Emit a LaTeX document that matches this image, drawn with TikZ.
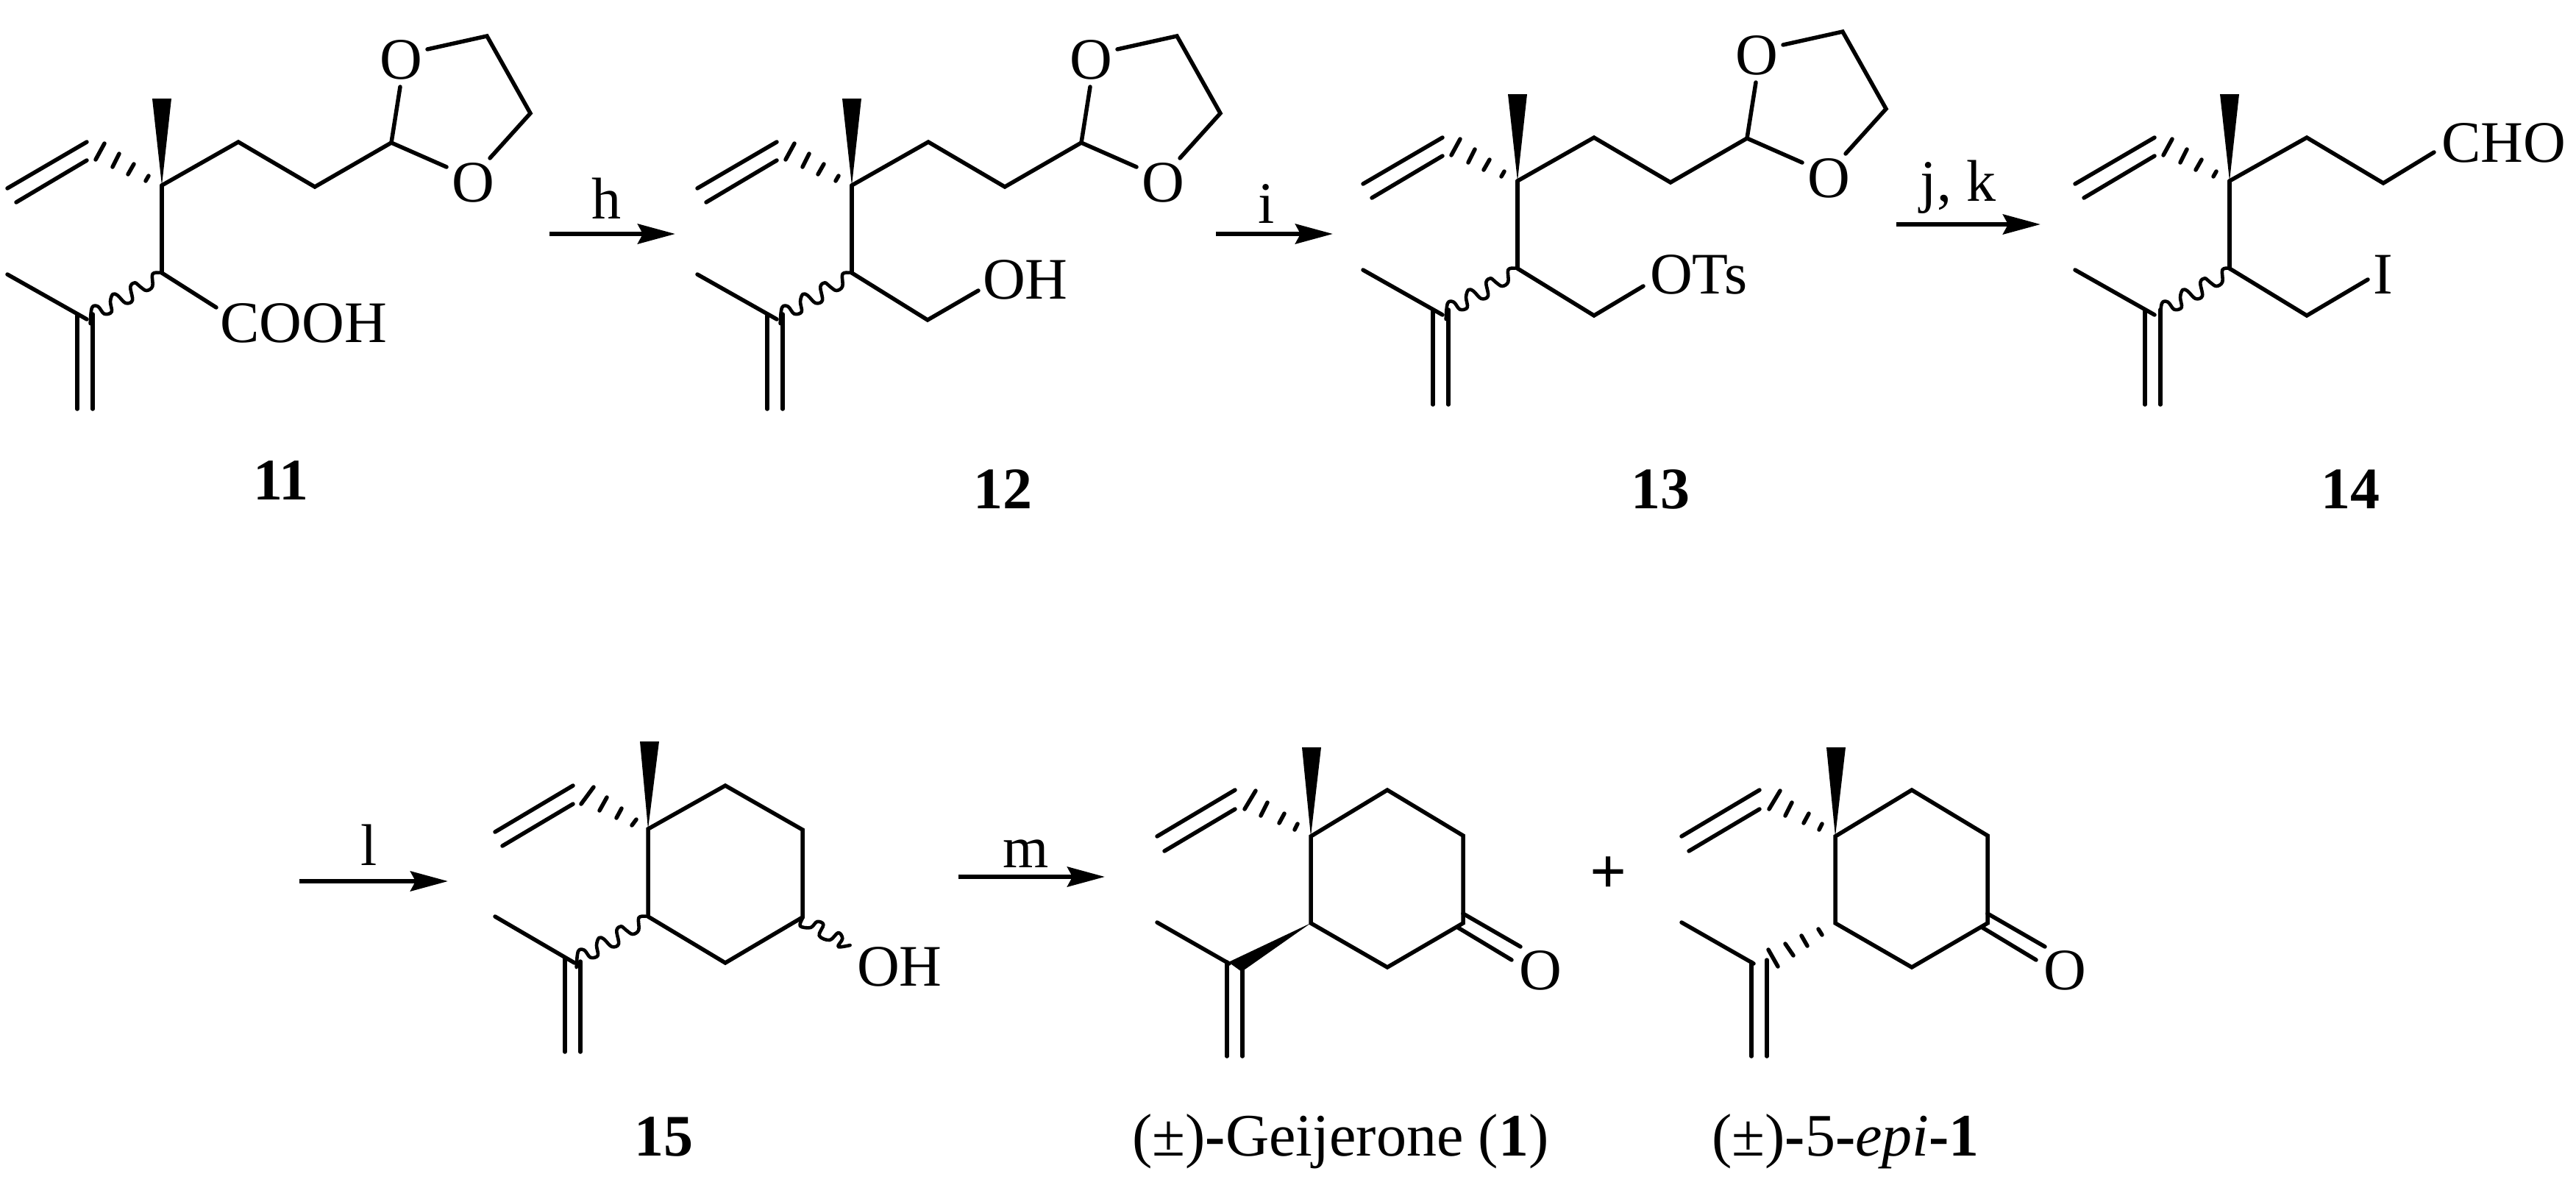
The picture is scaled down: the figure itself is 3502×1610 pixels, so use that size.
\documentclass[tikz,border=0pt]{standalone}
\usepackage{fontspec}
\setmainfont{Liberation Serif}
\usetikzlibrary{arrows.meta}
\tikzset{
  bond/.style={line width=5.5pt,line cap=round,line join=miter,miter limit=10},
  hash/.style={line width=5.5pt,line cap=round},
  wave/.style={line width=4.6pt,line cap=round,line join=round},
  rxn/.style={line width=6pt,-{Stealth[length=51pt,width=27pt,inset=7pt]}},
  atom/.style={inner sep=0pt,font=\fontsize{80}{96}\selectfont},
  cmpd/.style={inner sep=0pt,font=\fontsize{80}{96}\selectfont\bfseries},
  lbl/.style={inner sep=0pt,font=\fontsize{82}{98}\selectfont},
}
% wavy bond from the ring or chain carbon to the isopropenyl carbon
\newcommand{\WaveA}{%
  \draw[wave] plot[smooth,tension=0.6] coordinates {
    (216.7,370.7) (207.3,372.7) (207.3,389.3) (199,395) (190,389.3) (183.3,384.3)
    (177.3,390) (180,408.3) (170.7,412) (160,401.7) (153.3,400) (150,410)
    (151.7,424) (141.7,426.7) (133.3,416.7) (125,418.3) (122.7,440)};
}
% top-row core: quaternary C, wedge, vinyl, hashed bond, isopropenyl
\newcommand{\TopCore}{%
  \coordinate (q) at (220,252);
  \coordinate (c2) at (220,371);
  \coordinate (me) at (220,134);
  \coordinate (v1a) at (10,256);
  \coordinate (v1b) at (118,193);
  \coordinate (v2a) at (22,275);
  \coordinate (v2b) at (118,218);
  \coordinate (ma) at (10,373);
  \coordinate (mb) at (118,434);
  \coordinate (d1a) at (105,429);
  \coordinate (d1b) at (105,556);
  \coordinate (d2a) at (126,427);
  \coordinate (d2b) at (126,556);
  \fill ([xshift=-13pt]me) -- ([xshift=13pt]me) -- (q) -- cycle;
  \draw[bond] (q) -- (c2);
  \draw[bond] (v1a) -- (v1b);
  \draw[bond] (v2a) -- (v2b);
  \draw[bond] (ma) -- (mb);
  \draw[bond] (d1a) -- (d1b);
  \draw[bond] (d2a) -- (d2b);
  \draw[hash] (198,246) -- (202,239);
  \draw[hash] (174,237) -- (182,223);
  \draw[hash] (153,227) -- (162,209);
  \draw[hash] (130,217) -- (142,195);
}
% acetal side chain of 11, 12, 13
\newcommand{\Acetal}{%
  \coordinate (ca) at (324,193);
  \coordinate (cb) at (428,254);
  \coordinate (cc) at (532,194);
  \coordinate (r1) at (662,49);
  \coordinate (r2) at (721,154);
  \node[atom,anchor=base] (o1) at (545,107) {O};
  \node[atom,anchor=base] (o2) at (643,274) {O};
  \draw[bond] (q) -- (ca) -- (cb) -- (cc);
  \draw[bond] (cc) -- (544,118);
  \draw[bond] (cc) -- (607,227);
  \draw[bond] (581,67) -- (r1) -- (r2) -- (666,215);
}
% bottom-row core of 1 and 5-epi-1
\newcommand{\GeiCore}{%
  \coordinate (q) at (1782,1137);
  \coordinate (r2) at (1886,1074);
  \coordinate (r3) at (1989,1136);
  \coordinate (r4) at (1989,1255);
  \coordinate (r5) at (1886,1315);
  \coordinate (r6) at (1782,1255);
  \fill (1770,1016) -- (1796,1016) -- (q) -- cycle;
  \draw[bond] (q) -- (r2) -- (r3) -- (r4) -- (r5) -- (r6) -- cycle;
  \draw[bond] (1573,1137) -- (1679,1074);
  \draw[bond] (1583,1157) -- (1679,1100);
  \draw[hash] (1760,1128) -- (1764,1120);
  \draw[hash] (1739,1119) -- (1746,1106);
  \draw[hash] (1714,1109) -- (1723,1091);
  \draw[hash] (1692,1100) -- (1707,1075);
  \draw[bond] (1573,1254) -- (1671,1310);
  \draw[bond] (1668,1308) -- (1668,1436);
  \draw[bond] (1689,1305) -- (1689,1436);
  \draw[bond] (1989,1242) -- (2067,1287);
  \draw[bond] (1982,1261) -- (2055,1305);
  \node[atom,anchor=base] (oc) at (2094,1345) {O};
}
\begin{document}
\begin{tikzpicture}[x=1pt,y=-1pt]
\useasboundingbox (0,0) rectangle (3502,1610);

% 11
\begin{scope}[name prefix=a-]
  \TopCore \Acetal \WaveA
  \node[atom,anchor=base west] (cooh) at (299,465) {COOH};
  \draw[bond] (c2) -- (294,418);
  \node[cmpd,anchor=base] (n11) at (382,679) {11};
\end{scope}

% 12
\begin{scope}[shift={(938,0)},name prefix=b-]
  \TopCore \Acetal \WaveA
  \coordinate (ch) at (323,435);
  \node[atom,anchor=base west] (oh) at (398,406) {OH};
  \draw[bond] (c2) -- (ch) -- (392,395);
  \node[cmpd,anchor=base] (n12) at (425,691) {12};
\end{scope}

% 13
\begin{scope}[shift={(1843,-6)},name prefix=c-]
  \TopCore \Acetal \WaveA
  \coordinate (ch) at (324,435);
  \node[atom,anchor=base west] (ots) at (400,405) {OTs};
  \draw[bond] (c2) -- (ch) -- (391,395);
  \node[cmpd,anchor=base] (n13) at (414,697) {13};
\end{scope}

% 14
\begin{scope}[shift={(2811,-6)},name prefix=d-]
  \TopCore
  \begin{scope}[xshift=3pt]\WaveA\end{scope}
  \coordinate (ca) at (325,193);
  \coordinate (cb) at (429,255);
  \coordinate (ch) at (325,435);
  \node[atom,anchor=base west] (cho) at (508,226) {CHO};
  \node[atom,anchor=base] (iod) at (429,405) {I};
  \draw[bond] (q) -- (ca) -- (cb) -- (498,213);
  \draw[bond] (c2) -- (ch) -- (408,386);
  \node[cmpd,anchor=base] (n14) at (384,697) {14};
\end{scope}

% 15
\coordinate (q5) at (881,1127);
\coordinate (e2) at (986,1068);
\coordinate (e3) at (1091,1128);
\coordinate (e4) at (1091,1247);
\coordinate (e5) at (986,1309);
\coordinate (e6) at (881,1246);
\fill (870,1008) -- (896,1008) -- (q5) -- cycle;
\draw[bond] (q5) -- (e2) -- (e3) -- (e4) -- (e5) -- (e6) -- cycle;
\draw[bond] (673,1131) -- (779,1068);
\draw[bond] (683,1150) -- (779,1093);
\draw[hash] (859,1122) -- (865,1114);
\draw[hash] (838,1112) -- (845,1099);
\draw[hash] (815,1102) -- (825,1084);
\draw[hash] (790,1093) -- (807,1070);
\draw[bond] (673,1246) -- (781,1309);
\draw[bond] (768,1303) -- (768,1430);
\draw[bond] (789,1307) -- (789,1430);
\begin{scope}[shift={(661,875)}]\WaveA\end{scope}
\draw[wave] plot[smooth,tension=0.6] coordinates {
  (1090.7,1249) (1087.9,1259) (1102,1261) (1110.8,1253) (1119.4,1257)
  (1113.7,1272) (1128,1278) (1139.5,1268) (1145.3,1276) (1139.5,1287) (1155.6,1285)};
\node[atom,anchor=base west] (oh15) at (1165,1340) {OH};
\node[cmpd,anchor=base] (n15) at (902,1571) {15};

% geijerone
\GeiCore
\fill (1782,1255) -- (1670,1308) -- (1688,1321) -- cycle;
\node[lbl,anchor=base west] (gei) at (1539,1571) {(±){\bfseries -}Geijerone ({\bfseries 1})};
\node[cmpd,anchor=center,font=\fontsize{88}{96}\selectfont\bfseries] (plus) at (2187,1190) {+};

% 5-epi
\begin{scope}[shift={(713,0)},name prefix=f-]
  \GeiCore
\end{scope}
\draw[hash] (2472,1263) -- (2477,1271);
\draw[hash] (2449,1272) -- (2457,1286);
\draw[hash] (2427,1283) -- (2438,1299);
\draw[hash] (2404,1291) -- (2417,1314);
\node[lbl,anchor=base west] (epi) at (2327,1571) {(±){\bfseries -}5{\bfseries -}\textit{epi}{\bfseries -1}};

% reaction arrows
\coordinate (hs) at (747,318); \coordinate (he) at (918,318);
\coordinate (is) at (1653,318); \coordinate (ie) at (1812,318);
\coordinate (js) at (2578,305); \coordinate (je) at (2774,305);
\coordinate (ls) at (407,1198); \coordinate (le) at (609,1198);
\coordinate (ms) at (1303,1192); \coordinate (me) at (1502,1192);
\draw[rxn] (hs) -- (he);
\draw[rxn] (is) -- (ie);
\draw[rxn] (js) -- (je);
\draw[rxn] (ls) -- (le);
\draw[rxn] (ms) -- (me);
\node[atom,anchor=base] (th) at (824,297) {h};
\node[atom,anchor=base] (ti) at (1722,303) {i};
\node[atom,anchor=base] (tj) at (2662,273) {j, k};
\node[atom,anchor=base] (tl) at (502,1176) {l};
\node[atom,anchor=base] (tm) at (1395,1179) {m};
\end{tikzpicture}
\end{document}
